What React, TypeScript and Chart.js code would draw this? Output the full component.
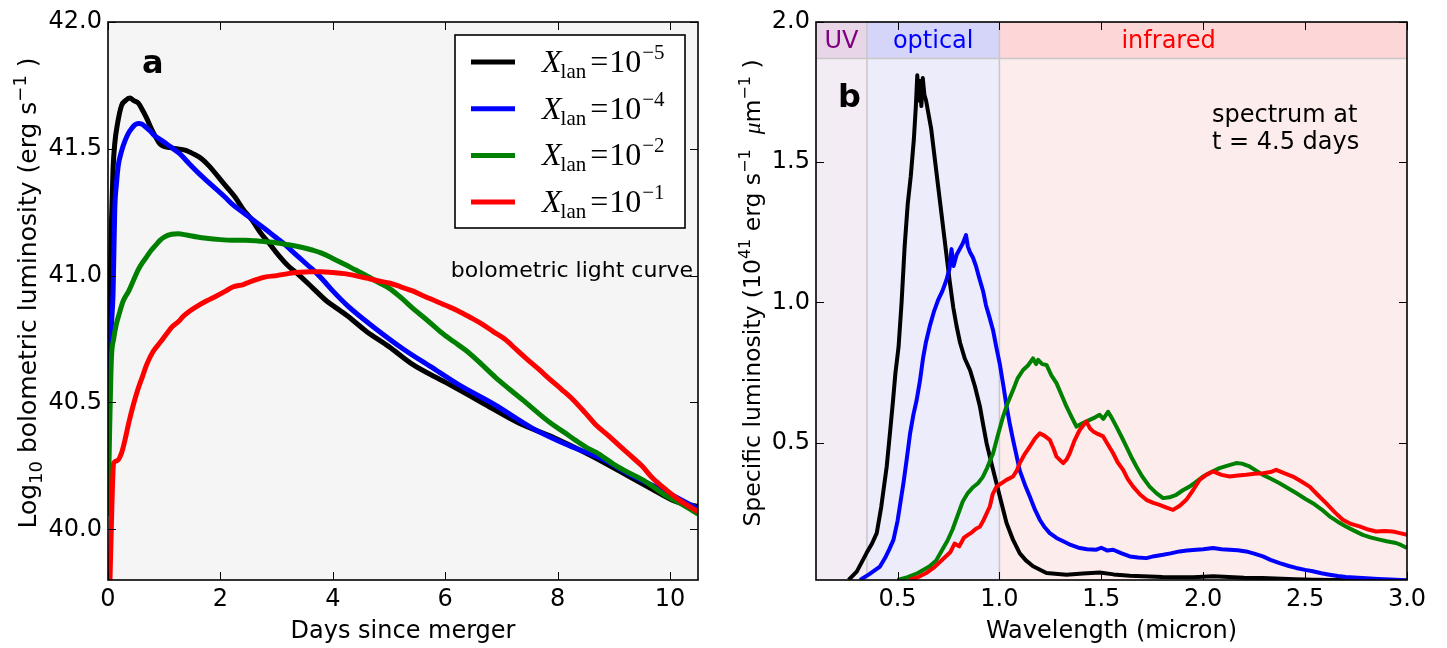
import React, { useEffect, useRef } from "react";
import { Chart, registerables } from "chart.js";

Chart.register(...registerables);

// ---------------- Panel a: bolometric light curves ----------------
const LC_DAYS_1E5 = [0, 0.03, 0.06, 0.09, 0.12, 0.17, 0.24, 0.31, 0.39, 0.46, 0.54, 0.62, 0.69, 0.77, 0.84, 0.92, 0.99, 1.1, 1.22, 1.37, 1.52, 1.67, 1.81, 1.96, 2.11, 2.26, 2.41, 2.56, 2.71, 2.86, 3.0, 3.2, 3.41, 3.65, 3.89, 4.08, 4.27, 4.6, 5.0, 5.42, 6.0, 6.65, 7.3, 7.95, 8.6, 9.26, 9.67, 10.1, 10.5];
const LC_LOGL_1E5 = [40.3, 40.85, 41.2, 41.42, 41.52, 41.6, 41.67, 41.69, 41.7, 41.69, 41.68, 41.65, 41.62, 41.58, 41.55, 41.52, 41.51, 41.505, 41.5, 41.495, 41.48, 41.46, 41.43, 41.39, 41.35, 41.31, 41.26, 41.22, 41.17, 41.13, 41.09, 41.04, 41.0, 40.95, 40.9, 40.87, 40.84, 40.78, 40.72, 40.65, 40.58, 40.5, 40.42, 40.36, 40.29, 40.21, 40.16, 40.11, 40.09];

const LC_DAYS_1E4 = [0, 0.03, 0.06, 0.09, 0.12, 0.15, 0.18, 0.24, 0.3, 0.36, 0.42, 0.48, 0.54, 0.6, 0.65, 0.75, 0.84, 0.94, 1.04, 1.16, 1.28, 1.45, 1.63, 1.78, 1.93, 2.08, 2.22, 2.37, 2.52, 2.67, 2.82, 2.96, 3.11, 3.26, 3.41, 3.56, 3.71, 3.86, 4.0, 4.27, 4.77, 5.26, 5.75, 6.24, 6.89, 7.54, 8.2, 8.77, 9.34, 9.91, 10.5];
const LC_LOGL_1E4 = [40.3, 40.6, 40.8, 40.93, 41.26, 41.36, 41.43, 41.49, 41.53, 41.56, 41.58, 41.595, 41.6, 41.598, 41.59, 41.57, 41.55, 41.535, 41.52, 41.5, 41.48, 41.44, 41.4, 41.37, 41.34, 41.31, 41.28, 41.255, 41.23, 41.205, 41.18, 41.155, 41.13, 41.1, 41.07, 41.04, 41.01, 40.975, 40.94, 40.88, 40.79, 40.71, 40.64, 40.57, 40.49, 40.4, 40.33, 40.28, 40.21, 40.15, 40.08];

const LC_DAYS_1E2 = [0, 0.03, 0.06, 0.1, 0.15, 0.2, 0.27, 0.37, 0.45, 0.53, 0.61, 0.69, 0.77, 0.85, 0.92, 1.0, 1.13, 1.25, 1.4, 1.59, 1.75, 2.0, 2.22, 2.45, 2.7, 2.98, 3.18, 3.38, 3.65, 3.79, 4.0, 4.2, 4.4, 4.6, 4.8, 5.02, 5.22, 5.42, 5.65, 5.91, 6.15, 6.4, 6.65, 6.89, 7.13, 7.38, 7.62, 7.87, 8.1, 8.36, 8.52, 8.69, 9.01, 9.25, 9.5, 9.7, 9.91, 10.2, 10.5];
const LC_LOGL_1E2 = [40.05, 40.4, 40.67, 40.75, 40.81, 40.85, 40.9, 40.94, 40.98, 41.02, 41.05, 41.075, 41.1, 41.12, 41.138, 41.152, 41.163, 41.165, 41.16, 41.152, 41.147, 41.142, 41.14, 41.14, 41.136, 41.13, 41.123, 41.115, 41.1, 41.09, 41.068, 41.046, 41.023, 41.0, 40.975, 40.948, 40.912, 40.872, 40.83, 40.78, 40.74, 40.7, 40.65, 40.6, 40.555, 40.51, 40.465, 40.42, 40.385, 40.345, 40.322, 40.303, 40.255, 40.225, 40.197, 40.168, 40.135, 40.1, 40.06];

const LC_DAYS_1E1 = [0.03, 0.07, 0.1, 0.16, 0.24, 0.3, 0.37, 0.45, 0.53, 0.61, 0.69, 0.8, 0.94, 1.04, 1.15, 1.26, 1.34, 1.45, 1.59, 1.75, 1.93, 2.1, 2.22, 2.41, 2.52, 2.65, 2.81, 3.0, 3.2, 3.41, 3.6, 3.79, 4.0, 4.2, 4.4, 4.6, 4.8, 5.02, 5.22, 5.42, 5.62, 5.83, 6.04, 6.24, 6.45, 6.65, 6.85, 7.06, 7.26, 7.46, 7.67, 7.87, 8.08, 8.28, 8.49, 8.69, 8.9, 9.1, 9.3, 9.5, 9.7, 9.91, 10.2, 10.5];
const LC_LOGL_1E1 = [39.75, 40.1, 40.26, 40.27, 40.3, 40.35, 40.42, 40.49, 40.55, 40.6, 40.65, 40.7, 40.74, 40.77, 40.8, 40.82, 40.84, 40.86, 40.88, 40.9, 40.92, 40.94, 40.955, 40.965, 40.975, 40.985, 40.995, 41.0, 41.008, 41.013, 41.015, 41.015, 41.012, 41.008, 41.0, 40.99, 40.98, 40.97, 40.955, 40.94, 40.92, 40.9, 40.88, 40.86, 40.835, 40.81, 40.78, 40.75, 40.71, 40.67, 40.63, 40.59, 40.55, 40.51, 40.46, 40.41, 40.37, 40.33, 40.29, 40.25, 40.2, 40.16, 40.11, 40.07];

// ---------------- Panel b: spectra at t = 4.5 days ----------------
const SP_WAVE_1E5 = [0.26, 0.3, 0.348, 0.375, 0.398, 0.42, 0.447, 0.465, 0.478, 0.49, 0.505, 0.52, 0.535, 0.55, 0.565, 0.58, 0.59, 0.597, 0.604, 0.61, 0.617, 0.624, 0.632, 0.64, 0.665, 0.685, 0.7, 0.72, 0.74, 0.757, 0.774, 0.79, 0.807, 0.83, 0.856, 0.88, 0.904, 0.92, 0.937, 0.953, 0.969, 1.002, 1.035, 1.067, 1.1, 1.13, 1.165, 1.231, 1.329, 1.41, 1.492, 1.56, 1.64, 1.8, 1.95, 2.05, 2.2, 2.29, 2.45, 2.54, 2.65, 2.8, 3.0];
const SP_LUM_1E5 = [0.01, 0.04, 0.106, 0.14, 0.177, 0.27, 0.415, 0.55, 0.65, 0.75, 0.84, 1.0, 1.2, 1.35, 1.45, 1.58, 1.7, 1.81, 1.72, 1.79, 1.7, 1.8, 1.74, 1.72, 1.62, 1.5, 1.41, 1.29, 1.17, 1.07, 0.98, 0.915, 0.856, 0.8, 0.758, 0.7, 0.63, 0.565, 0.498, 0.45, 0.403, 0.308, 0.213, 0.153, 0.105, 0.08, 0.059, 0.035, 0.029, 0.033, 0.037, 0.03, 0.025, 0.021, 0.02, 0.023, 0.018, 0.017, 0.013, 0.011, 0.01, 0.008, 0.006];

const SP_WAVE_1E4 = [0.316, 0.36, 0.414, 0.44, 0.46, 0.48, 0.5, 0.515, 0.529, 0.545, 0.562, 0.578, 0.594, 0.61, 0.625, 0.64, 0.66, 0.68, 0.7, 0.72, 0.74, 0.755, 0.765, 0.775, 0.79, 0.805, 0.82, 0.836, 0.845, 0.855, 0.87, 0.885, 0.9, 0.92, 0.934, 0.95, 0.969, 0.985, 1.002, 1.02, 1.035, 1.05, 1.067, 1.085, 1.1, 1.125, 1.149, 1.175, 1.198, 1.22, 1.247, 1.28, 1.313, 1.35, 1.394, 1.43, 1.476, 1.5, 1.53, 1.558, 1.6, 1.64, 1.68, 1.721, 1.76, 1.803, 1.84, 1.884, 1.92, 1.966, 2.0, 2.048, 2.09, 2.13, 2.17, 2.211, 2.25, 2.293, 2.33, 2.375, 2.42, 2.456, 2.5, 2.538, 2.58, 2.62, 2.66, 2.7, 2.78, 2.86, 2.946, 3.0];
const SP_LUM_1E4 = [0.01, 0.03, 0.058, 0.09, 0.12, 0.153, 0.22, 0.29, 0.355, 0.44, 0.534, 0.6, 0.652, 0.72, 0.8, 0.86, 0.92, 0.97, 1.01, 1.04, 1.08, 1.12, 1.19, 1.13, 1.17, 1.19, 1.21, 1.24, 1.2, 1.18, 1.16, 1.13, 1.09, 1.04, 0.99, 0.95, 0.9, 0.84, 0.78, 0.7, 0.63, 0.57, 0.51, 0.45, 0.4, 0.35, 0.308, 0.26, 0.225, 0.2, 0.177, 0.16, 0.148, 0.135, 0.124, 0.12, 0.118, 0.125, 0.115, 0.118, 0.105, 0.094, 0.09, 0.088, 0.095, 0.1, 0.105, 0.112, 0.115, 0.118, 0.12, 0.124, 0.12, 0.118, 0.116, 0.112, 0.104, 0.094, 0.082, 0.07, 0.06, 0.053, 0.046, 0.041, 0.034, 0.029, 0.024, 0.021, 0.017, 0.014, 0.011, 0.009];

const SP_WAVE_1E2 = [0.5, 0.55, 0.6, 0.656, 0.69, 0.721, 0.745, 0.77, 0.795, 0.82, 0.845, 0.869, 0.895, 0.918, 0.94, 0.969, 0.99, 1.018, 1.04, 1.067, 1.09, 1.116, 1.14, 1.165, 1.18, 1.19, 1.21, 1.231, 1.255, 1.28, 1.305, 1.329, 1.355, 1.378, 1.41, 1.443, 1.47, 1.492, 1.51, 1.533, 1.55, 1.574, 1.6, 1.623, 1.65, 1.672, 1.7, 1.737, 1.77, 1.803, 1.835, 1.868, 1.9, 1.933, 1.965, 1.999, 2.04, 2.08, 2.12, 2.162, 2.19, 2.227, 2.26, 2.293, 2.33, 2.375, 2.41, 2.456, 2.5, 2.538, 2.58, 2.62, 2.66, 2.7, 2.74, 2.783, 2.82, 2.865, 2.9, 2.946, 2.97, 3.0];
const SP_LUM_1E2 = [0.01, 0.02, 0.035, 0.058, 0.08, 0.12, 0.15, 0.19, 0.24, 0.29, 0.32, 0.34, 0.355, 0.377, 0.41, 0.462, 0.52, 0.593, 0.64, 0.688, 0.73, 0.759, 0.775, 0.8, 0.78, 0.795, 0.78, 0.777, 0.74, 0.712, 0.67, 0.629, 0.59, 0.557, 0.57, 0.581, 0.59, 0.599, 0.585, 0.61, 0.59, 0.557, 0.52, 0.486, 0.445, 0.415, 0.38, 0.343, 0.32, 0.302, 0.305, 0.314, 0.33, 0.343, 0.36, 0.379, 0.395, 0.409, 0.418, 0.427, 0.425, 0.415, 0.4, 0.385, 0.372, 0.355, 0.34, 0.32, 0.3, 0.284, 0.262, 0.237, 0.218, 0.201, 0.186, 0.171, 0.162, 0.154, 0.148, 0.142, 0.135, 0.124];

const SP_WAVE_1E1 = [0.557, 0.6, 0.639, 0.68, 0.721, 0.76, 0.78, 0.803, 0.825, 0.844, 0.865, 0.885, 0.904, 0.92, 0.934, 0.953, 0.967, 0.986, 1.0, 1.035, 1.067, 1.085, 1.1, 1.125, 1.149, 1.175, 1.198, 1.22, 1.247, 1.265, 1.28, 1.313, 1.33, 1.345, 1.37, 1.394, 1.41, 1.427, 1.445, 1.46, 1.485, 1.509, 1.535, 1.558, 1.58, 1.607, 1.63, 1.656, 1.69, 1.721, 1.755, 1.786, 1.82, 1.852, 1.885, 1.917, 1.95, 1.982, 2.015, 2.048, 2.09, 2.13, 2.17, 2.211, 2.25, 2.293, 2.33, 2.358, 2.4, 2.44, 2.48, 2.522, 2.56, 2.603, 2.645, 2.685, 2.725, 2.767, 2.81, 2.848, 2.89, 2.93, 2.96, 3.0];
const SP_LUM_1E1 = [0.01, 0.02, 0.034, 0.055, 0.083, 0.11, 0.14, 0.13, 0.16, 0.17, 0.18, 0.193, 0.2, 0.22, 0.242, 0.272, 0.316, 0.343, 0.35, 0.367, 0.379, 0.4, 0.427, 0.46, 0.486, 0.515, 0.533, 0.525, 0.51, 0.48, 0.45, 0.427, 0.44, 0.462, 0.51, 0.545, 0.56, 0.575, 0.55, 0.54, 0.53, 0.522, 0.49, 0.462, 0.43, 0.403, 0.37, 0.343, 0.315, 0.296, 0.285, 0.278, 0.268, 0.26, 0.275, 0.296, 0.33, 0.367, 0.385, 0.397, 0.385, 0.379, 0.383, 0.385, 0.389, 0.391, 0.395, 0.403, 0.39, 0.379, 0.362, 0.343, 0.315, 0.284, 0.252, 0.225, 0.21, 0.201, 0.19, 0.183, 0.185, 0.183, 0.178, 0.171];

// legend / series metadata
const SERIES_EXPONENTS = ["\u22125", "\u22124", "\u22122", "\u22121"];
const SERIES_COLORS = ["#000000", "#0000ff", "#008000", "#ff0000"];

// wavelength bands in panel b
const BAND_NAMES = ["UV", "optical", "infrared"];
const BAND_EDGES = [0.1, 0.35, 1.0, 3.0];
const BAND_LABEL_AT = [0.225, 0.675, 1.83];
const BAND_STRIP_FROM = 1.87;

const LC_X_TICKS = { min: 0, max: 10.5, step: 2 };
const LC_Y_TICKS = { min: 39.8, max: 42.0, step: 0.5 };
const SP_X_TICKS = { min: 0.1, max: 3.0, step: 0.5 };
const SP_Y_TICKS = { min: 0.01, max: 2.0, step: 0.5 };

// axis titles, as [text, kind] pieces: n = normal, sub = subscript, sup = superscript, it = italic
const LC_Y_TITLE: [string, string][] = [["Log", "n"], ["10", "sub"], [" bolometric luminosity (erg s", "n"], ["\u22121", "sup"], [" )", "n"]];
const SP_Y_TITLE: [string, string][] = [["Specific luminosity (10", "n"], ["41", "sup"], [" erg s", "n"], ["\u22121", "sup"], ["  ", "n"], ["\u03BC", "it"], ["m", "n"], ["\u22121", "sup"], [" )", "n"]];

// ---------------- styles ----------------
const SANS = '"DejaVu Sans", sans-serif';
const SERIF = '"Liberation Serif", "DejaVu Serif", serif';
const BAND_TEXT = ["#800080", "#0000ff", "#ff0000"];
const BAND_BODY = ["#f4ecf4", "#ececfb", "#fdecec"];
const BAND_STRIP = ["#e8d5e8", "#d5d5fa", "#fdd7d7"];

const pts = (xs: number[], ys: number[]) => xs.map((x, i) => ({ x, y: ys[i] }));

function drawVerticalMath(ctx: any, pieces: [string, string][], baseX: number, centerY: number, size: number) {
  const small = Math.round(size * 0.7);
  const fontFor = (k: string) =>
    k === "sub" || k === "sup" ? `${small}px ${SANS}` : k === "it" ? `italic ${size}px ${SERIF}` : `${size}px ${SANS}`;
  let total = 0;
  pieces.forEach(([t, k]) => {
    ctx.font = fontFor(k);
    total += ctx.measureText(t).width;
  });
  ctx.save();
  ctx.translate(baseX, centerY);
  ctx.rotate(-Math.PI / 2);
  ctx.fillStyle = "#000";
  ctx.textAlign = "left";
  ctx.textBaseline = "alphabetic";
  let x = -total / 2;
  pieces.forEach(([t, k]) => {
    ctx.font = fontFor(k);
    const dy = k === "sub" ? size * 0.25 : k === "sup" ? -size * 0.42 : 0;
    ctx.fillText(t, x, dy);
    x += ctx.measureText(t).width;
  });
  ctx.restore();
}

const framePlugin = {
  id: "frameTicks",
  afterDatasetsDraw(chart: any) {
    const { ctx, chartArea: a, scales } = chart;
    const tl = 8;
    ctx.save();
    ctx.strokeStyle = "#000";
    ctx.lineWidth = 1;
    ctx.beginPath();
    scales.x.ticks.forEach((t: any) => {
      const px = Math.round(scales.x.getPixelForValue(t.value)) + 0.5;
      ctx.moveTo(px, a.bottom);
      ctx.lineTo(px, a.bottom - tl);
      ctx.moveTo(px, a.top);
      ctx.lineTo(px, a.top + tl);
    });
    scales.y.ticks.forEach((t: any) => {
      const py = Math.round(scales.y.getPixelForValue(t.value)) + 0.5;
      ctx.moveTo(a.left, py);
      ctx.lineTo(a.left + tl, py);
      ctx.moveTo(a.right, py);
      ctx.lineTo(a.right - tl, py);
    });
    ctx.stroke();
    ctx.lineWidth = 1.6;
    ctx.strokeRect(a.left, a.top, a.right - a.left, a.bottom - a.top);
    ctx.restore();
  },
};

const lcBackgroundPlugin = {
  id: "lcBackground",
  beforeDatasetsDraw(chart: any) {
    const { ctx, chartArea: a } = chart;
    ctx.save();
    ctx.fillStyle = "#f5f5f5";
    ctx.fillRect(a.left, a.top, a.right - a.left, a.bottom - a.top);
    ctx.restore();
  },
};

const lcAnnotationPlugin = {
  id: "lcAnnotations",
  afterDraw(chart: any) {
    const { ctx, chartArea: a } = chart;
    drawVerticalMath(ctx, LC_Y_TITLE, 36, (a.top + a.bottom) / 2 - 8, 25);
    ctx.save();
    ctx.fillStyle = "#000";
    ctx.textBaseline = "alphabetic";
    ctx.font = `bold 32px ${SANS}`;
    ctx.textAlign = "left";
    ctx.fillText("a", a.left + 34, a.top + 51);
    ctx.font = `22px ${SANS}`;
    ctx.textAlign = "right";
    ctx.fillText("bolometric light curve", a.right - 5, a.top + 255);

    // legend
    const w = 230;
    const h = 193;
    const x0 = a.right - 13 - w;
    const y0 = a.top + 13;
    ctx.fillStyle = "#ffffff";
    ctx.fillRect(x0, y0, w, h);
    ctx.strokeStyle = "#000";
    ctx.lineWidth = 1.6;
    ctx.strokeRect(x0, y0, w, h);
    chart.data.datasets.forEach((ds: any, i: number) => {
      const cy = y0 + 27 + i * 46.7;
      ctx.strokeStyle = ds.borderColor;
      ctx.lineWidth = 5;
      ctx.beginPath();
      ctx.moveTo(x0 + 16, cy);
      ctx.lineTo(x0 + 60, cy);
      ctx.stroke();
      const base = cy + 10;
      let tx = x0 + 87;
      ctx.fillStyle = "#000";
      ctx.textAlign = "left";
      ctx.font = `italic 32px ${SERIF}`;
      ctx.fillText("X", tx, base);
      tx += ctx.measureText("X").width - 1;
      ctx.font = `21px ${SERIF}`;
      ctx.fillText("lan", tx, base + 6);
      tx += ctx.measureText("lan").width + 4;
      ctx.font = `32px ${SERIF}`;
      ctx.fillText("=", tx, base);
      tx += ctx.measureText("=").width + 1;
      ctx.fillText("10", tx, base);
      tx += ctx.measureText("10").width;
      ctx.font = `21px ${SERIF}`;
      ctx.fillText(SERIES_EXPONENTS[i], tx + 1, base - 13);
    });
    ctx.restore();
  },
};

const spBandsPlugin = {
  id: "spBands",
  beforeDatasetsDraw(chart: any) {
    const { ctx, chartArea: a, scales } = chart;
    const ys = scales.y.getPixelForValue(BAND_STRIP_FROM);
    ctx.save();
    BAND_NAMES.forEach((name, i) => {
      const x1 = scales.x.getPixelForValue(BAND_EDGES[i]);
      const x2 = scales.x.getPixelForValue(BAND_EDGES[i + 1]);
      ctx.fillStyle = BAND_BODY[i];
      ctx.fillRect(x1, a.top, x2 - x1, a.bottom - a.top);
      ctx.fillStyle = BAND_STRIP[i];
      ctx.fillRect(x1, a.top, x2 - x1, ys - a.top);
      ctx.fillStyle = BAND_TEXT[i];
      ctx.font = `24px ${SANS}`;
      ctx.textAlign = "center";
      ctx.textBaseline = "middle";
      ctx.fillText(name, scales.x.getPixelForValue(BAND_LABEL_AT[i]), (a.top + ys) / 2 + 2);
    });
    ctx.strokeStyle = "#c8c8c8";
    ctx.lineWidth = 1.5;
    ctx.beginPath();
    ctx.moveTo(a.left, ys);
    ctx.lineTo(a.right, ys);
    for (let i = 1; i < BAND_EDGES.length - 1; i++) {
      const px = scales.x.getPixelForValue(BAND_EDGES[i]);
      ctx.moveTo(px, a.top);
      ctx.lineTo(px, a.bottom);
    }
    ctx.stroke();
    ctx.restore();
  },
};

const spAnnotationPlugin = {
  id: "spAnnotations",
  afterDraw(chart: any) {
    const { ctx, chartArea: a } = chart;
    drawVerticalMath(ctx, SP_Y_TITLE, 40, (a.top + a.bottom) / 2 - 8, 23.5);
    ctx.save();
    ctx.fillStyle = "#000";
    ctx.textBaseline = "alphabetic";
    ctx.textAlign = "left";
    ctx.font = `bold 32px ${SANS}`;
    ctx.fillText("b", a.left + 22, a.top + 85);
    ctx.font = `24px ${SANS}`;
    ctx.fillText("spectrum at", a.right - 195, a.top + 100);
    ctx.fillText("t = 4.5 days", a.right - 195, a.top + 126.5);
    ctx.restore();
  },
};

function axis(
  range: { min: number; max: number; step: number },
  fmt: (v: number) => string,
  title: string,
  isX: boolean,
  size: number
) {
  return {
    type: "linear",
    min: range.min,
    max: range.max,
    grid: { display: false, drawTicks: false },
    border: { display: false },
    ticks: {
      stepSize: range.step,
      includeBounds: false,
      autoSkip: false,
      maxRotation: 0,
      color: "#000",
      padding: isX ? 5 : 6,
      font: { family: SANS, size: 24 },
      callback: (v: any) => fmt(Number(v)),
    },
    title: {
      display: isX,
      text: title,
      color: "#000",
      font: { family: SANS, size: 24 },
      padding: { top: 2, bottom: 2 },
    },
    afterFit: (s: any) => {
      if (isX) s.height = size;
      else s.width = size;
    },
  };
}

function lineDataset(xs: number[], ys: number[], i: number, width: number, smooth: boolean) {
  return {
    label: `X_lan = 10^${SERIES_EXPONENTS[i]}`,
    data: pts(xs, ys),
    borderColor: SERIES_COLORS[i],
    backgroundColor: SERIES_COLORS[i],
    borderWidth: width,
    pointRadius: 0,
    fill: false,
    clip: 0,
    order: 3 - i,
    tension: 0,
    cubicInterpolationMode: smooth ? "monotone" : "default",
    borderJoinStyle: "round",
    borderCapStyle: "butt",
  };
}

function lightCurveConfig(): any {
  return {
    type: "line",
    data: {
      datasets: [
        lineDataset(LC_DAYS_1E5, LC_LOGL_1E5, 0, 5, true),
        lineDataset(LC_DAYS_1E4, LC_LOGL_1E4, 1, 5, true),
        lineDataset(LC_DAYS_1E2, LC_LOGL_1E2, 2, 5, true),
        lineDataset(LC_DAYS_1E1, LC_LOGL_1E1, 3, 5, true),
      ],
    },
    options: {
      animation: false,
      responsive: false,
      layout: { padding: { top: 22, right: 22, left: 0, bottom: 0 } },
      plugins: { legend: { display: false }, tooltip: { enabled: false } },
      scales: {
        x: axis(LC_X_TICKS, (v) => String(Math.round(v)), "Days since merger", true, 68),
        y: axis(LC_Y_TICKS, (v) => v.toFixed(1), "Log10 bolometric luminosity (erg s^-1)", false, 108),
      },
    },
    plugins: [lcBackgroundPlugin, framePlugin, lcAnnotationPlugin],
  };
}

function spectrumConfig(): any {
  return {
    type: "line",
    data: {
      datasets: [
        lineDataset(SP_WAVE_1E5, SP_LUM_1E5, 0, 4, false),
        lineDataset(SP_WAVE_1E4, SP_LUM_1E4, 1, 4, false),
        lineDataset(SP_WAVE_1E2, SP_LUM_1E2, 2, 4, false),
        lineDataset(SP_WAVE_1E1, SP_LUM_1E1, 3, 4, false),
      ],
    },
    options: {
      animation: false,
      responsive: false,
      layout: { padding: { top: 22, right: 40, left: 0, bottom: 0 } },
      plugins: { legend: { display: false }, tooltip: { enabled: false } },
      scales: {
        x: axis(SP_X_TICKS, (v) => v.toFixed(1), "Wavelength (micron)", true, 68),
        y: axis(SP_Y_TICKS, (v) => v.toFixed(1), "Specific luminosity (10^41 erg s^-1 um^-1)", false, 96),
      },
    },
    plugins: [spBandsPlugin, framePlugin, spAnnotationPlugin],
  };
}

export default function App() {
  const leftRef = useRef<HTMLCanvasElement>(null);
  const rightRef = useRef<HTMLCanvasElement>(null);
  useEffect(() => {
    const c1 = new Chart(leftRef.current as HTMLCanvasElement, lightCurveConfig());
    const c2 = new Chart(rightRef.current as HTMLCanvasElement, spectrumConfig());
    return () => {
      c1.destroy();
      c2.destroy();
    };
  }, []);
  return (
    <div style={{ position: "absolute", left: 0, top: 0, width: 1447, height: 648, background: "#ffffff" }}>
      <canvas ref={leftRef} width={720} height={648} style={{ position: "absolute", left: 0, top: 0, width: 720, height: 648 }} />
      <canvas ref={rightRef} width={727} height={648} style={{ position: "absolute", left: 720, top: 0, width: 727, height: 648 }} />
    </div>
  );
}
